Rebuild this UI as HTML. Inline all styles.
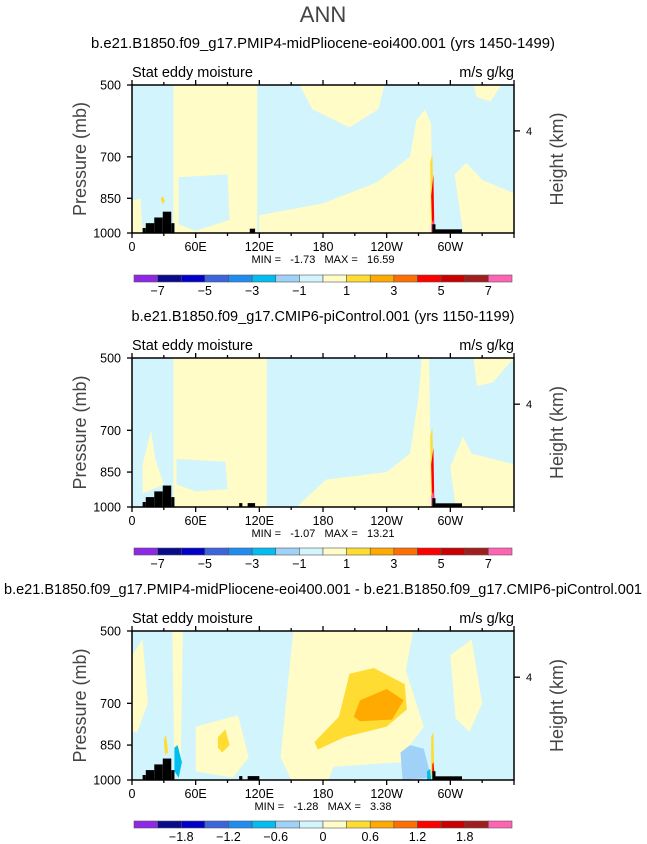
<!DOCTYPE html>
<html><head><meta charset="utf-8">
<style>
html,body{margin:0;padding:0;background:#fff;}
svg{display:block;font-family:"Liberation Sans",sans-serif;}
text{white-space:pre;}
</style></head>
<body>
<svg id="chart" width="647" height="844" viewBox="0 0 647 844">
<text x="323" y="22" text-anchor="middle" font-size="22" fill="#444">ANN</text>
</svg>
<script>
// ---- data ----
const lonTicks = [0,60,120,180,240,300];
const lonTickLabels = ["0","60E","120E","180","120W","60W"];
const presTicks = [500,700,850,1000];
const cbLabels1 = ["-7","-5","-3","-1","1","3","5","7"];
const cbLabels3 = ["-1.8","-1.2","-0.6","0","0.6","1.2","1.8"];
const cbColors = ["#8c28e6","#0a0a8c","#0000c8","#3c64dc","#1e8cf0","#00bef0","#a0d2f8","#d2f4fc","#fffcc8","#ffdc32","#ffaa00","#ff6e00","#ff0000","#c80000","#a01e1e","#ff64b4"];
const titles = ["b.e21.B1850.f09_g17.PMIP4-midPliocene-eoi400.001 (yrs 1450-1499)","b.e21.B1850.f09_g17.CMIP6-piControl.001 (yrs 1150-1199)","b.e21.B1850.f09_g17.PMIP4-midPliocene-eoi400.001 - b.e21.B1850.f09_g17.CMIP6-piControl.001"];
const titleWidths = [464,383,638];
const minVals = ["-1.73","-1.07","-1.28"];
const maxVals = ["16.59","13.21","3.38"];
// topography steps: [lon0, lon1, pressure top]
const topo1 = [[10,13,977],[13,21,955],[21,29,930],[29,37,905],[37,40,955],[111,116,980],[283,286,960],[286,311,983]];
const topo2 = [[10,13,977],[13,21,955],[21,29,930],[29,37,905],[37,40,955],[101,104,982],[109,116,982],[283,286,960],[286,311,983]];
const topo3 = [[10,13,977],[13,21,955],[21,29,930],[29,37,905],[37,40,955],[101,104,982],[109,120,982],[283,286,960],[286,311,983]];
// contour regions as [color index, [[lon,p],...]]
const regions1 = [
 [8,[[39,500],[118,500],[118,1000],[39,1000]]],
 [7,[[44,770],[90,760],[92,940],[60,990],[44,960]]],
 [8,[[0,860],[8,850],[10,1000],[0,1000]]],
 [8,[[158,500],[238,500],[232,560],[205,610],[170,560]]],
 [8,[[120,920],[180,870],[230,790],[262,700],[268,590],[276,560],[282,600],[283,1000],[120,1000]]],
 [8,[[304,760],[315,720],[330,780],[360,830],[360,1000],[312,1000]]],
 [8,[[322,500],[348,500],[338,540],[325,530]]],
 [9,[[27,850],[29,842],[31,860],[29,875]]],
 [9,[[281,720],[283,690],[285,990],[282,990]]],
 [12,[[282,840],[284,760],[285,1000],[283,1000]]],
 [15,[[282,960],[284,940],[285,1000],[282,1000]]]
];
const regions2 = [
 [8,[[39,500],[127,500],[127,1000],[39,1000]]],
 [7,[[42,800],[88,810],[90,920],[60,930],[42,900]]],
 [8,[[10,820],[18,700],[22,800],[30,900],[10,940]]],
 [8,[[155,1000],[183,880],[240,850],[262,780],[270,600],[273,500],[280,500],[282,1000]]],
 [8,[[300,830],[312,720],[320,780],[360,820],[360,1000],[305,1000]]],
 [8,[[322,500],[360,500],[340,560],[325,570]]],
 [9,[[281,720],[283,690],[285,990],[282,990]]],
 [12,[[282,820],[284,760],[285,1000],[283,1000]]],
 [15,[[282,950],[284,930],[285,1000],[282,1000]]]
];
const regions3 = [
 [8,[[152,500],[265,500],[258,600],[275,780],[262,850],[270,1000],[150,1000],[140,900],[145,700]]],
 [7,[[190,940],[255,920],[262,1000],[185,1000]]],
 [8,[[60,780],[100,740],[110,900],[95,990],[60,960]]],
 [8,[[0,560],[10,520],[15,700],[5,800],[0,800]]],
 [8,[[300,560],[320,520],[330,700],[318,800],[305,750]]],
 [8,[[38,500],[48,500],[46,900],[40,950]]],
 [9,[[172,838],[195,745],[205,610],[228,594],[257,640],[259,720],[240,780],[200,820],[175,868]]],
 [10,[[209,745],[215,690],[240,655],[256,690],[245,755],[215,761]]],
 [9,[[81,820],[88,790],[92,850],[85,880],[81,860]]],
 [6,[[253,880],[262,850],[275,865],[282,990],[255,1000]]],
 [5,[[40,860],[43,850],[47,920],[44,990],[40,960]]],
 [5,[[278,960],[281,950],[282,1000],[278,1000]]],
 [9,[[30,830],[32,810],[34,880],[31,890]]],
 [9,[[282,820],[284,800],[285,990],[282,990]]],
 [12,[[283,930],[284,920],[285,970],[283,970]]]
];
// ---- drawing ----
const NS="http://www.w3.org/2000/svg";
const svg=document.getElementById('chart');
function el(tag,attrs,parent){const e=document.createElementNS(NS,tag);for(const k in attrs)e.setAttribute(k,attrs[k]);(parent||svg).appendChild(e);return e;}
const X0=132,X1=514;
function xs(lon){return X0+(lon/360)*(X1-X0);}
function panel(idx,top,bot,regions,topo,cbY,labels){
  function ys(p){return top+(Math.log(p/500)/Math.log(2))*(bot-top);}
  const g=el('g',{});
  
  
  const t=el('text',{x:323,y:top-37,'text-anchor':'middle','font-size':15,fill:'#000',textLength:titleWidths[idx],lengthAdjust:'spacingAndGlyphs'},g);t.textContent=titles[idx];
  
  
  const s1=el('text',{x:132,y:top-8,'font-size':14.5,fill:'#000'},g);s1.textContent="Stat eddy moisture";
  
  
  const s2=el('text',{x:514,y:top-8,'font-size':14.5,'text-anchor':'end',fill:'#000'},g);s2.textContent="m/s g/kg";
  
  
  const bg=el('rect',{x:X0,y:top,width:X1-X0,height:bot-top,fill:cbColors[7]},g);
  
  
  regions.forEach(r=>{
    const pts=r[1].map(q=>xs(q[0]).toFixed(1)+','+ys(q[1]).toFixed(1)).join(' ');
    const pg=el('polygon',{points:pts,fill:cbColors[r[0]]},g);
    
    
  });
  topo.forEach(b=>{
    const r=el('rect',{x:xs(b[0]),y:ys(b[2]),width:xs(b[1])-xs(b[0]),height:bot-ys(b[2]),fill:'#000'},g);
    
    
  });
  const fr=el('rect',{x:X0,y:top,width:X1-X0,height:bot-top,fill:'none',stroke:'#000','stroke-width':1.5},g);
  
  
  for(let lon=0;lon<=360;lon+=30){
    const big=lon%60===0;
    el('line',{x1:xs(lon),x2:xs(lon),y1:bot,y2:bot+(big?5:3),stroke:'#000','stroke-width':1.3},g);
    el('line',{x1:xs(lon),x2:xs(lon),y1:top,y2:top-(big?5:3),stroke:'#000','stroke-width':1.3},g);
  }
  lonTicks.forEach((lon,i)=>{
    const tx=el('text',{x:xs(lon),y:bot+18,'text-anchor':'middle','font-size':12.5,fill:'#000'},g);tx.textContent=lonTickLabels[i];
    
    
  });
  presTicks.forEach(p=>{
    el('line',{x1:X0-5,x2:X0,y1:ys(p),y2:ys(p),stroke:'#000','stroke-width':1.3},g);
    const tx=el('text',{x:121,y:ys(p)+4.5,'text-anchor':'end','font-size':12.5,fill:'#000'},g);tx.textContent=p;
    
    
  });
  const h4=ys(500)+(bot-top)*0.31;
  el('line',{x1:X1,x2:X1+6,y1:h4,y2:h4,stroke:'#000','stroke-width':1.3},g);
  const t4=el('text',{x:X1+12,y:h4+4,'font-size':11,fill:'#000'},g);t4.textContent="4";
  
  
  const cy=(top+bot)/2;
  const yl=el('text',{x:0,y:0,transform:`translate(86,${cy}) rotate(-90)`,'text-anchor':'middle','font-size':18,fill:'#444'},g);yl.textContent="Pressure (mb)";
  
  
  const yr=el('text',{x:0,y:0,transform:`translate(563,${cy}) rotate(-90)`,'text-anchor':'middle','font-size':18,fill:'#444'},g);yr.textContent="Height (km)";
  
  
  const mm=el('text',{x:323,y:bot+30,'text-anchor':'middle','font-size':11,fill:'#000'},g);
  mm.textContent="MIN =   "+minVals[idx]+"   MAX =   "+maxVals[idx];
  
  
  const cw=(512-134)/16;
  cbColors.forEach((c,i)=>{
    const r=el('rect',{x:134+i*cw,y:cbY,width:cw,height:7,fill:c,stroke:'#555','stroke-width':0.6},g);
    
    
  });
  const off=labels.length===8?1:2;
  labels.forEach((l,i)=>{
    const tx=el('text',{x:134+(off+2*i)*cw,y:cbY+20,'text-anchor':'middle','font-size':12.5,fill:'#000'},g);
    tx.textContent=l.replace('-','\u2212');
    
    
  });
}
panel(0,85,233,regions1,topo1,275,cbLabels1);
panel(1,358,507,regions2,topo2,548,cbLabels1);
panel(2,631,780,regions3,topo3,821,cbLabels3);
</script>
</body></html>
